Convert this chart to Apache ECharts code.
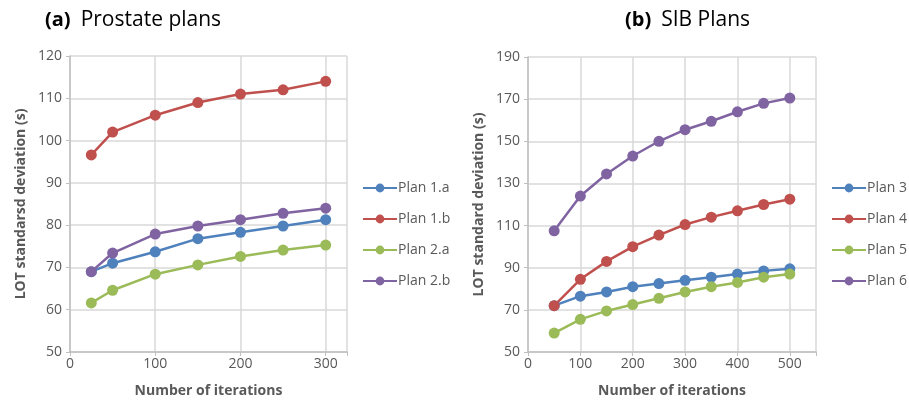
<!DOCTYPE html>
<html>
<head>
<meta charset="utf-8">
<script src="https://cdn.jsdelivr.net/npm/echarts@6/dist/echarts.min.js"></script>
<style>
  html, body { margin: 0; padding: 0; background: #fff; }
  #main { width: 909px; height: 403px; }
</style>
</head>
<body>
<div id="main"></div>
<script>
// (a) Prostate plans
const itersA = [25, 50, 100, 150, 200, 250, 300]
const plan1a = [69, 71, 73.7, 76.8, 78.3, 79.8, 81.3]
const plan1b = [96.6, 102, 106, 109, 111, 112, 114]
const plan2a = [61.6, 64.6, 68.4, 70.6, 72.6, 74.1, 75.3]
const plan2b = [69, 73.4, 77.9, 79.8, 81.3, 82.8, 84]

// (b) SIB plans
const itersB = [50, 100, 150, 200, 250, 300, 350, 400, 450, 500]
const plan3 = [72, 76.5, 78.5, 81, 82.5, 84, 85.5, 87, 88.5, 89.5]
const plan4 = [72, 84.5, 93, 100, 105.5, 110.5, 114, 117, 120, 122.5]
const plan5 = [59, 65.5, 69.5, 72.5, 75.5, 78.5, 81, 83, 85.5, 87]
const plan6 = [107.5, 124, 134.5, 143, 150, 155.5, 159.5, 164, 168, 170.5]

const colors = ['#4F81BD', '#C0504D', '#9BBB59', '#8064A2']
const font = 'Open Sans'
const gray = '#595959'

function pairs(xs, ys) {
  return xs.map((x, i) => [x, ys[i]])
}

function lineSeries(name, xs, ys, idx, color) {
  return {
    name: name,
    type: 'line',
    xAxisIndex: idx,
    yAxisIndex: idx,
    data: pairs(xs, ys),
    symbol: 'circle',
    symbolSize: 11,
    color: color,
    lineStyle: { width: 2.5, color: color },
    itemStyle: { color: color },
    emphasis: { disabled: true }
  }
}

function xAxisOpt(idx, max) {
  return {
    type: 'value',
    gridIndex: idx,
    min: 0,
    max: max,
    interval: 100,
    name: 'Number of iterations',
    nameLocation: 'middle',
    nameGap: 32,
    nameTextStyle: { fontFamily: font, fontSize: 14, fontWeight: 'bold', color: gray },
    axisLine: { show: true, lineStyle: { color: '#bfbfbf', width: 1.5 } },
    axisTick: { show: true, length: 4, lineStyle: { color: '#bfbfbf' } },
    axisLabel: {
      fontFamily: font, fontSize: 14, color: gray, margin: 5,
      formatter: v => (v % 100 === 0 ? String(v) : '')
    },
    splitLine: { show: true, lineStyle: { color: '#d9d9d9', width: 1.5 } }
  }
}

function yAxisOpt(idx, min, max, interval, name) {
  return {
    type: 'value',
    gridIndex: idx,
    min: min,
    max: max,
    interval: interval,
    name: name,
    nameLocation: 'middle',
    nameGap: 42,
    nameTextStyle: { fontFamily: font, fontSize: 14, fontWeight: 'bold', color: gray },
    axisLine: { show: true, lineStyle: { color: '#bfbfbf', width: 1.5 } },
    axisTick: { show: true, length: 4, lineStyle: { color: '#bfbfbf' } },
    axisLabel: { fontFamily: font, fontSize: 14, color: gray, margin: 8 },
    splitLine: { show: true, lineStyle: { color: '#d9d9d9', width: 1.5 } }
  }
}

function legendOpt(left, names) {
  return {
    data: names,
    orient: 'vertical',
    left: left,
    top: 176,
    itemGap: 17,
    itemWidth: 34,
    itemHeight: 11,
    textStyle: { fontFamily: font, fontSize: 14, color: gray, padding: [0, 0, 0, -4] },
    selectedMode: false
  }
}

const titleRich = {
  b: { fontFamily: font, fontSize: 20, fontWeight: 'bold', color: '#000' },
  n: { fontFamily: font, fontSize: 21, fontWeight: 'normal', color: '#000' }
}

const option = {
  backgroundColor: '#fff',
  animation: false,
  title: [
    { text: '{b|(a)}  {n|Prostate plans}', left: 40, top: 5, textStyle: { rich: titleRich } },
    { text: '{b|(b)}  {n|SIB Plans}', left: 620, top: 5, textStyle: { rich: titleRich } }
  ],
  legend: [
    legendOpt(357, ['Plan 1.a', 'Plan 1.b', 'Plan 2.a', 'Plan 2.b']),
    legendOpt(826, ['Plan 3', 'Plan 4', 'Plan 5', 'Plan 6'])
  ],
  grid: [
    { left: 70, top: 56, width: 277, height: 299 },
    { left: 528, top: 57, width: 288, height: 298 }
  ],
  xAxis: [
    xAxisOpt(0, 325),
    xAxisOpt(1, 550)
  ],
  yAxis: [
    yAxisOpt(0, 50, 120, 10, 'LOT standarsd deviation (s)'),
    yAxisOpt(1, 50, 190, 20, 'LOT standard deviation (s)')
  ],
  series: [
    lineSeries('Plan 1.a', itersA, plan1a, 0, colors[0]),
    lineSeries('Plan 1.b', itersA, plan1b, 0, colors[1]),
    lineSeries('Plan 2.a', itersA, plan2a, 0, colors[2]),
    lineSeries('Plan 2.b', itersA, plan2b, 0, colors[3]),
    lineSeries('Plan 3', itersB, plan3, 1, colors[0]),
    lineSeries('Plan 4', itersB, plan4, 1, colors[1]),
    lineSeries('Plan 5', itersB, plan5, 1, colors[2]),
    lineSeries('Plan 6', itersB, plan6, 1, colors[3])
  ]
}

const chart = echarts.init(document.getElementById('main'))
chart.setOption(option)
</script>
</body>
</html>
